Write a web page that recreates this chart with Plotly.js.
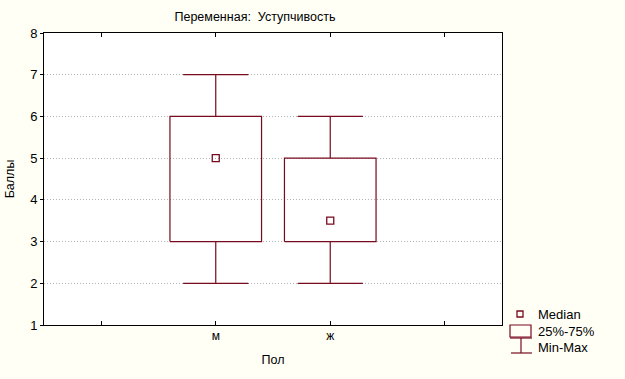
<!DOCTYPE html>
<html>
<head>
<meta charset="utf-8">
<script src="https://cdn.plot.ly/plotly-3.0.1.min.js"></script>
<style>
html,body{margin:0;padding:0;background:#FFFFF6;}
#chart{width:625px;height:379px;}
</style>
</head>
<body>
<div id="chart"></div>
<script>
// ---- data ----
var categories = ["м", "ж"];
var medians = [5, 3.5];
var q1 = [3, 3];
var q3 = [6, 5];
var mins = [2, 2];
var maxs = [7, 6];
var tickLabels = ["", "м", "ж", ""];
var legendLabels = ["Median", "25%-75%", "Min-Max"];

var COLOR = "#780A1E";
var FONT = "Liberation Sans, Arial, sans-serif";
var boxHalf = 0.4, capHalf = 0.285;

var traces = [];
categories.forEach(function (c, i) {
  var x = i + 1;
  traces.push({
    type: "scatter", mode: "lines", showlegend: false, hoverinfo: "skip",
    x: [x, x, null, x, x, null, x - capHalf, x + capHalf, null, x - capHalf, x + capHalf],
    y: [q3[i], maxs[i], null, mins[i], q1[i], null, maxs[i], maxs[i], null, mins[i], mins[i]],
    line: {color: COLOR, width: 1.2}
  });
  traces.push({
    type: "scatter", mode: "lines", showlegend: false, hoverinfo: "skip",
    x: [x - boxHalf, x + boxHalf, x + boxHalf, x - boxHalf, x - boxHalf],
    y: [q1[i], q1[i], q3[i], q3[i], q1[i]],
    line: {color: COLOR, width: 1.2}
  });
  traces.push({
    type: "scatter", mode: "markers", showlegend: false, hoverinfo: "skip",
    x: [x], y: [medians[i]],
    marker: {symbol: "square-open", size: 7, color: COLOR, line: {width: 1.3, color: COLOR}}
  });
});

var W = 625, H = 379, L = 44, R = 123, T = 33, B = 54;
function px(x) { return (x - L) / (W - L - R); }
function py(y) { return (H - B - y) / (H - T - B); }
var shapes = [
  {type: "rect", xref: "paper", yref: "paper", x0: px(517), x1: px(523), y0: py(317), y1: py(311), line: {color: COLOR, width: 1.3}},
  {type: "rect", xref: "paper", yref: "paper", x0: px(510), x1: px(531), y0: py(337), y1: py(325), line: {color: COLOR, width: 1.2}},
  {type: "line", xref: "paper", yref: "paper", x0: px(510), x1: px(532), y0: py(338), y1: py(338), line: {color: COLOR, width: 1.2}},
  {type: "line", xref: "paper", yref: "paper", x0: px(521), x1: px(521), y0: py(338), y1: py(353), line: {color: COLOR, width: 1.2}},
  {type: "line", xref: "paper", yref: "paper", x0: px(511), x1: px(532), y0: py(353), y1: py(353), line: {color: COLOR, width: 1.2}}
];
var annotations = [
  {xref: "paper", yref: "paper", x: px(536), y: py(314), text: legendLabels[0], showarrow: false, xanchor: "left", yanchor: "middle", font: {family: FONT, size: 13, color: "#000"}},
  {xref: "paper", yref: "paper", x: px(536), y: py(331), text: legendLabels[1], showarrow: false, xanchor: "left", yanchor: "middle", font: {family: FONT, size: 13, color: "#000"}},
  {xref: "paper", yref: "paper", x: px(536), y: py(347), text: legendLabels[2], showarrow: false, xanchor: "left", yanchor: "middle", font: {family: FONT, size: 13, color: "#000"}}
];

var layout = {
  width: 625, height: 379,
  paper_bgcolor: "#FFFFF6",
  plot_bgcolor: "#FFFFFF",
  margin: {l: L, r: R, t: T, b: B},
  showlegend: false,
  font: {family: FONT, size: 12, color: "#000"},
  title: {text: "Переменная:  Уступчивость", xref: "container", x: 255 / 625, xanchor: "center", yref: "container", y: 1 - 17 / 379, yanchor: "middle", font: {family: FONT, size: 12.5, color: "#000"}},
  xaxis: {
    range: [-0.5, 3.5], tickmode: "array", tickvals: [0, 1, 2, 3], ticktext: tickLabels,
    ticks: "inside", ticklen: 4, tickcolor: "#000", showgrid: false, zeroline: false,
    showline: true, linecolor: "#000", linewidth: 1, mirror: "allticks",
    tickfont: {family: FONT, size: 12}, fixedrange: true,
    title: {text: "Пол", standoff: 12, font: {family: FONT, size: 12.5}}
  },
  yaxis: {
    range: [1, 8], tickmode: "linear", tick0: 1, dtick: 1,
    ticks: "outside", ticklen: 3, tickcolor: "#000",
    showgrid: true, gridcolor: "#B4B4B4", griddash: "1px,2px", gridwidth: 1, zeroline: false,
    showline: true, linecolor: "#000", linewidth: 1, mirror: true,
    tickfont: {family: FONT, size: 13}, fixedrange: true,
    title: {text: "Баллы", standoff: 12, font: {family: FONT, size: 12.5}}
  },
  shapes: shapes,
  annotations: annotations
};

Plotly.newPlot("chart", traces, layout, {displayModeBar: false, staticPlot: true});
</script>
</body>
</html>
